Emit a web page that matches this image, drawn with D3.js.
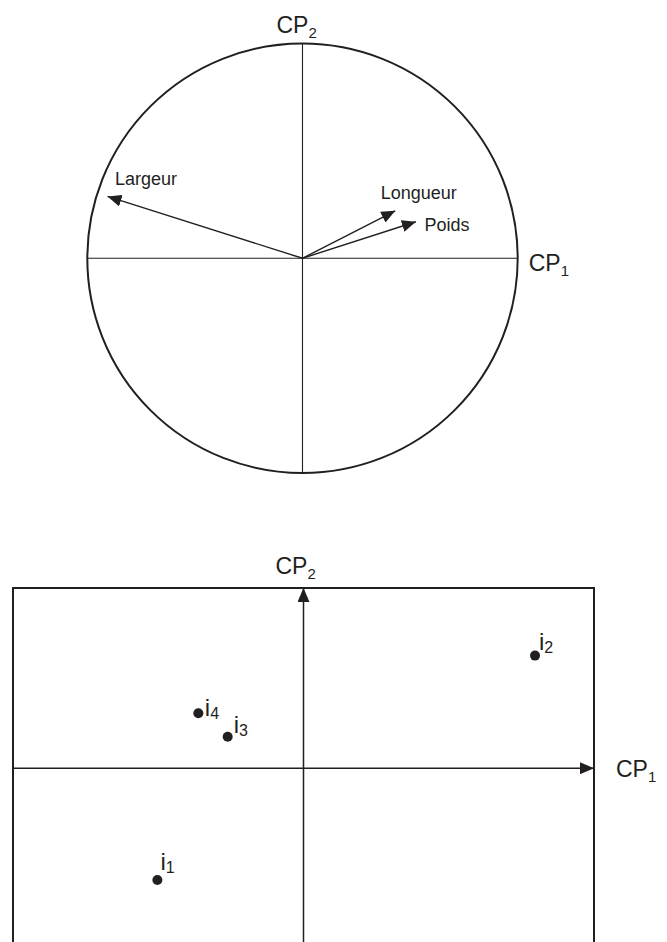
<!DOCTYPE html>
<html>
<head>
<meta charset="utf-8">
<script src="https://cdn.jsdelivr.net/npm/d3@7"></script>
<style>
  body { margin: 0; background: #fff; }
  svg { display: block; }
  text { font-family: "Liberation Sans", Arial, Helvetica, sans-serif; fill: #231f20; }
</style>
</head>
<body>
<svg id="chart" width="667" height="942"></svg>
<script>
// Correlation circle: loadings of each variable on the first two principal components
const variables = ["Largeur", "Longueur", "Poids"];
const loadingsCP1 = [-0.906, 0.431, 0.527];
const loadingsCP2 = [0.288, 0.221, 0.170];

// Individuals projected on the factorial plane (CP1, CP2)
const individuals = ["1", "2", "3", "4"];
const scoresCP1 = [-0.503, 0.797, -0.261, -0.362];
const scoresCP2 = [-0.620, 0.625, 0.175, 0.305];

// Axis names with their subscripts
const axisNames = ["CP", "CP"];
const axisIndex = ["1", "2"];

const ink = "#231f20";
const svg = d3.select("#chart");

// Arrowhead used by the loading vectors and the plane axes
const defs = svg.append("defs");
defs.append("marker")
  .attr("id", "head")
  .attr("markerUnits", "userSpaceOnUse")
  .attr("viewBox", "0 0 14 12")
  .attr("markerWidth", 14).attr("markerHeight", 12)
  .attr("refX", 14).attr("refY", 6)
  .attr("orient", "auto")
  .append("path").attr("d", "M0,0 L14,6 L0,12 Z").attr("fill", ink);

// Subscripted axis label, e.g. CP₁
function axisLabel(g, x, y, i) {
  const t = g.append("text").attr("x", x).attr("y", y).attr("font-size", 23);
  t.append("tspan").text(axisNames[i]);
  t.append("tspan").attr("font-size", 15).attr("dy", 5).text(axisIndex[i]);
}

// ---------- Correlation circle ----------
const cx = d3.scaleLinear().domain([-1, 1]).range([87.3, 517.7]);
const cy = d3.scaleLinear().domain([-1, 1]).range([473, 43.5]);
const circleG = svg.append("g");

circleG.append("ellipse")
  .attr("cx", cx(0)).attr("cy", cy(0))
  .attr("rx", cx(1) - cx(0)).attr("ry", cy(-1) - cy(0))
  .attr("fill", "none").attr("stroke", ink).attr("stroke-width", 2);

circleG.append("line")
  .attr("x1", cx(-1)).attr("x2", cx(1)).attr("y1", cy(0)).attr("y2", cy(0))
  .attr("stroke", ink).attr("stroke-width", 1.1);
circleG.append("line")
  .attr("x1", cx(0)).attr("x2", cx(0)).attr("y1", cy(-1)).attr("y2", cy(1))
  .attr("stroke", ink).attr("stroke-width", 1.1);

const vecData = variables.map((name, i) => ({ name, x: loadingsCP1[i], y: loadingsCP2[i] }));

circleG.selectAll("line.vec").data(vecData).join("line")
  .attr("class", "vec")
  .attr("x1", cx(0)).attr("y1", cy(0))
  .attr("x2", d => cx(d.x)).attr("y2", d => cy(d.y))
  .attr("stroke", ink).attr("stroke-width", 1.4)
  .attr("marker-end", "url(#head)");

// Label placement relative to each arrow tip
const varNudge = {
  "Largeur": [7.5, -11],
  "Longueur": [-14.5, -11.5],
  "Poids": [8.5, 9.5]
};
circleG.selectAll("text.var").data(vecData).join("text")
  .attr("class", "var")
  .attr("x", d => cx(d.x) + varNudge[d.name][0])
  .attr("y", d => cy(d.y) + varNudge[d.name][1])
  .attr("font-size", 18)
  .text(d => d.name);

axisLabel(circleG, cx(1) + 11, cy(0) + 13, 0);
axisLabel(circleG, cx(0) - 26, cy(1) - 11, 1);

// ---------- Plane of individuals ----------
const sx = d3.scaleLinear().domain([-1, 1]).range([13, 594]);
const sy = d3.scaleLinear().domain([-1, 1]).range([948.5, 588]);
const planeG = svg.append("g");

planeG.append("rect")
  .attr("x", sx(-1)).attr("y", sy(1))
  .attr("width", sx(1) - sx(-1)).attr("height", sy(-1) - sy(1))
  .attr("fill", "none").attr("stroke", ink).attr("stroke-width", 2);

planeG.append("line")
  .attr("x1", sx(-1)).attr("x2", sx(1)).attr("y1", sy(0)).attr("y2", sy(0))
  .attr("stroke", ink).attr("stroke-width", 1.5)
  .attr("marker-end", "url(#head)");
planeG.append("line")
  .attr("x1", sx(0)).attr("x2", sx(0)).attr("y1", sy(-1)).attr("y2", sy(1))
  .attr("stroke", ink).attr("stroke-width", 1.5)
  .attr("marker-end", "url(#head)");

const indData = individuals.map((k, i) => ({ k, x: scoresCP1[i], y: scoresCP2[i] }));

planeG.selectAll("circle.ind").data(indData).join("circle")
  .attr("class", "ind")
  .attr("cx", d => sx(d.x)).attr("cy", d => sy(d.y))
  .attr("r", 5).attr("fill", ink);

// Label placement relative to each point
const indNudge = { "1": [3, -10], "2": [4, -5.5], "3": [6, -3.5], "4": [6.5, 3] };
const lab = planeG.selectAll("text.ind").data(indData).join("text")
  .attr("class", "ind")
  .attr("x", d => sx(d.x) + indNudge[d.k][0])
  .attr("y", d => sy(d.y) + indNudge[d.k][1])
  .attr("font-size", 24);
lab.append("tspan").text("i");
lab.append("tspan").attr("font-size", 16).attr("dy", 2.5).text(d => d.k);

axisLabel(planeG, sx(1) + 22, sy(0) + 9, 0);
axisLabel(planeG, sx(0) - 28, sy(1) - 14, 1);
</script>
</body>
</html>
